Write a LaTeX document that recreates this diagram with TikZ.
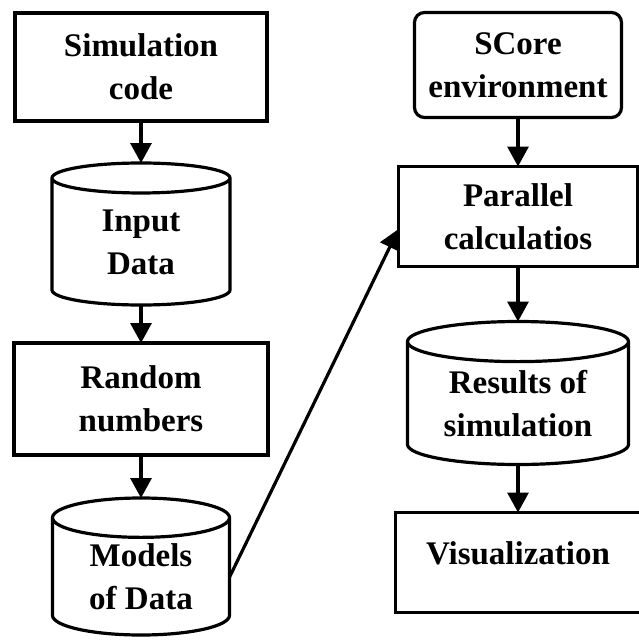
\documentclass[tikz,border=0pt]{standalone}
\usepackage{fontspec}
\setmainfont{Liberation Serif}
\usetikzlibrary{positioning}
\usetikzlibrary{arrows.meta}
\usetikzlibrary{shapes.geometric}

\begin{document}
\begin{tikzpicture}[x=1pt, y=-1pt, line width=3.2pt, outer sep=0pt,
  font=\fontsize{33}{43}\selectfont\bfseries,
  box/.style={draw, rectangle, align=center, inner sep=0pt},
  store/.style={draw, cylinder, shape border rotate=90, aspect=0.38,
    align=center, inner sep=0pt},
  flow/.style={-{Triangle[width=21pt,length=20pt]}}]

\useasboundingbox (0,0) rectangle (638,640);

% left column
\node (sim) [box, minimum width=252pt, minimum height=108pt] at (141,67) {Simulation\\code};
\node (inp) [store, below=42pt of sim, minimum width=178pt, minimum height=142pt] {Input\\Data};
\node (rnd) [box, below=38pt of inp, minimum width=254pt, minimum height=112pt] {Random\\numbers};
\node (mod) [store, below=43pt of rnd, minimum width=177pt, minimum height=137pt] {Models\\of Data};

% right column
\node (env) [box, rounded corners=10pt, minimum width=207pt, minimum height=105pt] at (518,65) {SCore\\environment};
\node (par) [box, below=49pt of env, minimum width=239pt, minimum height=100pt] {Parallel\\calculatios};
\node (res) [store, aspect=0.27, below=55pt of par, minimum width=221pt, minimum height=143pt] {Results of\\simulation};
\node (vis) [box, below=48pt of res, minimum width=245pt, minimum height=100pt, text depth=18pt] {Visualization};

\draw[flow] (sim) to (inp);
\draw[flow] (inp) to (rnd);
\draw[flow] (rnd) to (mod);
\draw[flow] (env) to (par);
\draw[flow] (par) to (res);
\draw[flow] (res) to (vis);
\draw[flow] (mod.east) to (par.186);

\end{tikzpicture}
\end{document}
